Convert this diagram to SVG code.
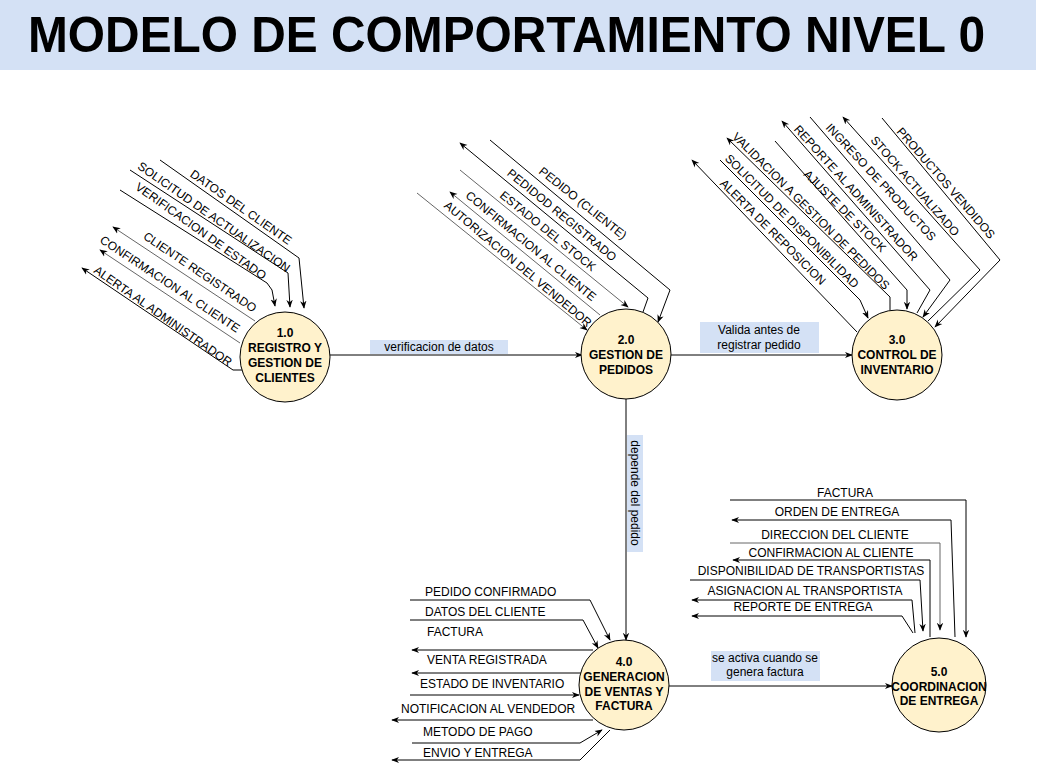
<svg xmlns="http://www.w3.org/2000/svg" width="1040" height="769" viewBox="0 0 1040 769">
<style>
.t{font-family:"Liberation Sans",Arial,sans-serif;font-size:12px;fill:#000}
.c{text-anchor:middle}
.r{text-anchor:middle}
.nt{font-family:"Liberation Sans",Arial,sans-serif;font-size:12px;font-weight:bold;text-anchor:middle;fill:#000}
.n{fill:#FFF2CC;stroke:#000;stroke-width:1}
.e{fill:none;stroke:#000;stroke-width:1}
.g{stroke:#666}
.a{marker-end:url(#ah)}
.lb{fill:#D4E1F5}
</style>
<defs>
<marker id="ah" viewBox="0 0 10 10" refX="9" refY="5" markerWidth="8" markerHeight="8" markerUnits="userSpaceOnUse" orient="auto">
<path d="M0,1 L10,5 L0,9 L3,5 z" fill="#000"/>
</marker>
</defs>
<rect width="1040" height="769" fill="#fff"/>
<g id="title">
<rect x="0" y="0" width="1036" height="70" fill="#D4E1F5"/>
<text x="28" y="52" font-family="'Liberation Sans',Arial,sans-serif" font-size="50" font-weight="bold" textLength="957" lengthAdjust="spacingAndGlyphs">MODELO DE COMPORTAMIENTO NIVEL 0</text>
</g>
<g id="connectors">
<path class="e a" d="M330,355 L582,355"/>
<path class="e a" d="M671,355 L852,355"/>
<path class="e a" d="M626,399 L626,640"/>
<path class="e a" d="M669,686 L892,686"/>
<path class="e a" d="M160,160 L299,258 L304,308"/>
<path class="e a" d="M130,170 L288,273 L290,307"/>
<path class="e a" d="M120,190 L267,283 L272,290 L275,306"/>
<path class="e g a" d="M255,321 L113,227"/>
<path class="e g a" d="M240,343 L100,250"/>
<path class="e a" d="M242,370 L233,370 L82,268"/>
<path class="e a" d="M490,140 L670,290 L658,322"/>
<path class="e a" d="M643,312 L648,298 L460,143"/>
<path class="e g a" d="M460,170 L628,307"/>
<path class="e g a" d="M600,315 L450,192"/>
<path class="e g a" d="M417,193 L587,330"/>
<path class="e a" d="M882,118 L1000,260 L935,327"/>
<path class="e a" d="M928,321 L980,270 L843,117"/>
<path class="e a" d="M810,117 L950,280 L923,317"/>
<path class="e a" d="M917,313 L930,290 L782,121"/>
<path class="e a" d="M775,141 L907,290 L907,309"/>
<path class="e a" d="M890,310 L890,297 L727,138"/>
<path class="e a" d="M720,160 L860,300 L868,318"/>
<path class="e a" d="M857,332 L692,160"/>
<path class="e a" d="M410,600 L590,600 L610,640"/>
<path class="e a" d="M410,620 L583,620 L598,648"/>
<path class="e a" d="M593,650 L412,650"/>
<path class="e a" d="M587,673 L412,673"/>
<path class="e a" d="M410,695 L579,695"/>
<path class="e a" d="M593,720 L392,720"/>
<path class="e a" d="M412,743 L580,743 L602,730"/>
<path class="e a" d="M610,730 L580,760 L392,760"/>
<path class="e a" d="M730,500 L966,500 L966,637"/>
<path class="e a" d="M955,637 L951,520 L732,520"/>
<path class="e g a" d="M730,543 L940,543 L940,630"/>
<path class="e a" d="M930,637 L930,560 L733,560"/>
<path class="e a" d="M690,580 L920,580 L923,631"/>
<path class="e a" d="M915,633 L912,600 L692,600"/>
<path class="e a" d="M913,633 L902,616 L692,616"/>
<rect class="lb" x="370" y="340" width="138" height="14"/>
<text class="t c" x="439" y="351">verificacion de datos</text>
<rect class="lb" x="700" y="322" width="119" height="31"/>
<text class="t c" x="759" y="334">Valida antes de</text>
<text class="t c" x="759" y="349">registrar pedido</text>
<rect class="lb" x="627" y="435" width="16" height="117"/>
<text class="t c" transform="translate(635,493) rotate(90)" dy="0.35em">depende del pedido</text>
<rect class="lb" x="711" y="651" width="109" height="30"/>
<text class="t c" x="765" y="662">se activa cuando se</text>
<text class="t c" x="765" y="676">genera factura</text>
<text class="t r" transform="translate(241,207) rotate(35)" dy="0.35em">DATOS DEL CLIENTE</text>
<text class="t r" transform="translate(214,217) rotate(35)" dy="0.35em">SOLICITUD DE ACTUALIZACION</text>
<text class="t r" transform="translate(201,231) rotate(35.5)" dy="0.35em">VERIFICACION DE ESTADO</text>
<text class="t r" transform="translate(200,272) rotate(34)" dy="0.35em">CLIENTE REGISTRADO</text>
<text class="t r" transform="translate(170,284) rotate(33.5)" dy="0.35em">CONFIRMACION AL CLIENTE</text>
<text class="t r" transform="translate(163,316) rotate(35)" dy="0.35em">ALERTA AL ADMINISTRADOR</text>
<text class="t r" transform="translate(583,203) rotate(38.5)" dy="0.35em">PEDIDO (CLIENTE)</text>
<text class="t r" transform="translate(562,215) rotate(39.5)" dy="0.35em">PEDIDOD REGISTRADO</text>
<text class="t r" transform="translate(548,231) rotate(39)" dy="0.35em">ESTADO DEL STOCK</text>
<text class="t r" transform="translate(531,246) rotate(39.5)" dy="0.35em">CONFIRMACION AL CLIENTE</text>
<text class="t r" transform="translate(518,264) rotate(40)" dy="0.35em">AUTORIZACION DEL VENDEDOR</text>
<text class="t r" transform="translate(946,183) rotate(49)" dy="0.35em">PRODUCTOS VENDIDOS</text>
<text class="t r" transform="translate(915,186) rotate(49)" dy="0.35em">STOCK ACTUALIZADO</text>
<text class="t r" transform="translate(881,182) rotate(47)" dy="0.35em">INGRESO DE PRODUCTOS</text>
<text class="t r" transform="translate(856,193) rotate(48)" dy="0.35em">REPORTE AL ADMINISTRADOR</text>
<text class="t r" transform="translate(845,211) rotate(45)" dy="0.35em">AJUSTE DE STOCK</text>
<text class="t r" transform="translate(811,211) rotate(45)" dy="0.35em">VALIDACION A GESTION DE PEDIDOS</text>
<text class="t r" transform="translate(792,221) rotate(45)" dy="0.35em">SOLICITUD DE DISPONIBILIDAD</text>
<text class="t r" transform="translate(773,232) rotate(45)" dy="0.35em">ALERTA DE REPOSICION</text>
<text class="t" x="425" y="596">PEDIDO CONFIRMADO</text>
<text class="t" x="425" y="616">DATOS DEL CLIENTE</text>
<text class="t" x="427" y="636">FACTURA</text>
<text class="t" x="427" y="664">VENTA REGISTRADA</text>
<text class="t" x="420" y="688">ESTADO DE INVENTARIO</text>
<text class="t" x="401" y="713">NOTIFICACION AL VENDEDOR</text>
<text class="t" x="423" y="736">METODO DE PAGO</text>
<text class="t" x="423" y="757">ENVIO Y ENTREGA</text>
<text class="t c" x="845" y="497">FACTURA</text>
<text class="t c" x="837" y="516">ORDEN DE ENTREGA</text>
<text class="t c" x="835" y="539">DIRECCION DEL CLIENTE</text>
<text class="t c" x="831" y="557">CONFIRMACION AL CLIENTE</text>
<text class="t c" x="811" y="575">DISPONIBILIDAD DE TRANSPORTISTAS</text>
<text class="t c" x="805" y="595">ASIGNACION AL TRANSPORTISTA</text>
<text class="t c" x="803" y="611">REPORTE DE ENTREGA</text>
</g>
<g id="node1">
<circle class="n" cx="285" cy="357" r="45"/>
<text class="nt" x="285" y="337">1.0</text>
<text class="nt" x="285" y="352">REGISTRO Y</text>
<text class="nt" x="285" y="367">GESTION DE</text>
<text class="nt" x="285" y="382">CLIENTES</text>
</g>
<g id="node2">
<circle class="n" cx="626" cy="354" r="45"/>
<text class="nt" x="626" y="344">2.0</text>
<text class="nt" x="626" y="359">GESTION DE</text>
<text class="nt" x="626" y="374">PEDIDOS</text>
</g>
<g id="node3">
<circle class="n" cx="897" cy="355" r="45"/>
<text class="nt" x="897" y="344">3.0</text>
<text class="nt" x="897" y="359">CONTROL DE</text>
<text class="nt" x="897" y="374">INVENTARIO</text>
</g>
<g id="node4">
<circle class="n" cx="624" cy="685" r="45"/>
<text class="nt" x="624" y="666">4.0</text>
<text class="nt" x="624" y="681">GENERACION</text>
<text class="nt" x="624" y="696">DE VENTAS Y</text>
<text class="nt" x="624" y="710">FACTURA</text>
</g>
<g id="node5">
<circle class="n" cx="939" cy="685" r="47"/>
<text class="nt" x="939" y="676">5.0</text>
<text class="nt" x="939" y="691">COORDINACION</text>
<text class="nt" x="939" y="705">DE ENTREGA</text>
</g>
</svg>
